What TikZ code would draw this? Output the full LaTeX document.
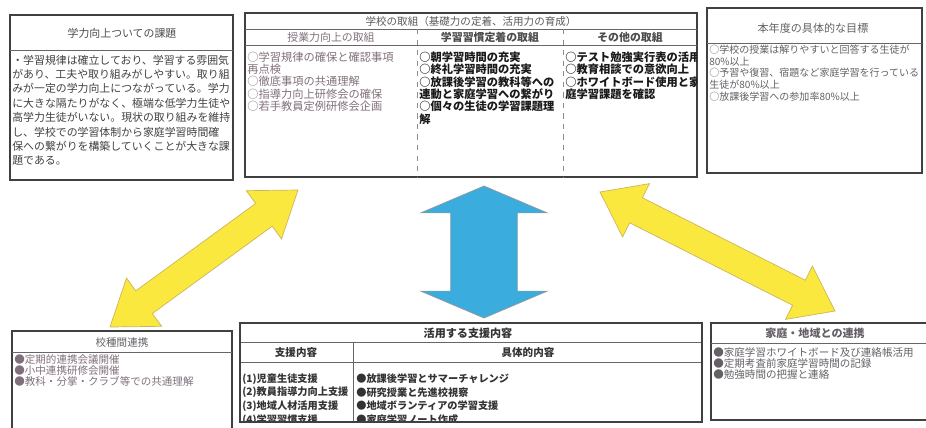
\documentclass[tikz,border=0pt]{standalone}
\usepackage{fontspec}
\setmainfont{Noto Sans CJK JP}
\usepackage{xcolor}
\usepackage{tikz}
\usetikzlibrary{calc}

\definecolor{arrowyellow}{RGB}{250,232,62}
\definecolor{arrowyellowedge}{RGB}{205,180,95}
\definecolor{arrowblue}{RGB}{58,172,222}
\definecolor{fadetext}{RGB}{128,112,124}
\definecolor{greytext}{RGB}{100,96,102}

\newcommand{\jpsize}[2]{\fontsize{#1}{#2}\selectfont}
% block double arrow: from, to, shaft half width, head half width, head length, style
\newcommand{\bigdblarrow}[6]{%
  \coordinate (hA) at ($(#1)!#5!(#2)$);
  \coordinate (hB) at ($(#2)!#5!(#1)$);
  \draw[#6] (#1) -- ($(hA)!#4!90:(#2)$) -- ($(hA)!#3!90:(#2)$)
    -- ($(hB)!#3!-90:(#1)$) -- ($(hB)!#4!-90:(#1)$) -- (#2)
    -- ($(hB)!#4!90:(#1)$) -- ($(hB)!#3!90:(#1)$)
    -- ($(hA)!#3!-90:(#2)$) -- ($(hA)!#4!-90:(#2)$) -- cycle;}

\begin{document}
\begin{tikzpicture}[
  x=0.02cm,y=-0.02cm,
  boxframe/.style={draw=black!75,line width=0.9pt},
  hrule/.style={draw=black!60,line width=0.5pt},
  colrule/.style={draw=black!45,dashed,line width=0.4pt},
  ttl/.style={inner sep=0pt,text=black!70,font=\jpsize{6.2}{7}},
  txt/.style={inner sep=0pt,anchor=north west,align=left},
  yarr/.style={fill=arrowyellow,draw=arrowyellowedge,line width=0.4pt},
  barr/.style={fill=arrowblue,draw=black!40,line width=0.4pt}
]
  \useasboundingbox (0,0) rectangle (926,427);
  \clip (0,0) rectangle (926,427);

  % Issues box (top left)
  \draw[boxframe] (10,15) rectangle (233,180);
  \draw[hrule] (10,50) -- (233,50);
  \node[ttl] (tIssue) at (122,33) {学力向上ついての課題};
  \node[txt,text=black!75,font=\jpsize{6.2}{8.2}] (bIssue) at (12,54.5)
    {・学習規律は確立しており、学習する雰囲気\\があり、工夫や取り組みがしやすい。取り組\\みが一定の学力向上につながっている。学力\\に大きな隔たりがなく、極端な低学力生徒や\\高学力生徒がいない。現状の取り組みを維持\\し、学校での学習体制から家庭学習時間確\\保への繋がりを構築していくことが大きな課\\題である。};

  % School efforts box (top middle)
  \draw[boxframe] (245,13) rectangle (697,177);
  \draw[hrule] (245,29) -- (697,29);
  \draw[hrule] (245,45) -- (697,45);
  \draw[colrule] (417,29) -- (417,177);
  \draw[colrule] (563,29) -- (563,177);
  \node[ttl,font=\jpsize{6.0}{7},text=black!65] (tSchool) at (471,21) {学校の取組（基礎力の定着、活用力の育成）};
  \node[ttl,text=fadetext] (hLesson) at (331,37.5) {授業力向上の取組};
  \node[ttl,font=\jpsize{6.2}{7}\bfseries] (hHabit) at (490,37.5) {学習習慣定着の取組};
  \node[ttl,font=\jpsize{6.2}{7}\bfseries] (hOther) at (630,37.5) {その他の取組};
  \begin{scope}
    \clip (246,46) rectangle (696,176);
    \node[txt,text=fadetext,font=\jpsize{6.4}{7}] (cLesson) at (247,51.5)
      {○学習規律の確保と確認事項\\再点検\\○徹底事項の共通理解\\○指導力向上研修会の確保\\○若手教員定例研修会企画};
    \node[txt,text=black!90,font=\jpsize{6.4}{7}\bfseries] (cHabit) at (419,51.5)
      {○朝学習時間の充実\\○終礼学習時間の充実\\○放課後学習の教科等への\\連動と家庭学習への繋がり\\○個々の生徒の学習課題理\\解};
    \node[txt,text=black!90,font=\jpsize{6.4}{7}\bfseries] (cOther) at (565,51.5)
      {○テスト勉強実行表の活用\\○教育相談での意欲向上\\○ホワイトボード使用と家\\庭学習課題を確認};
  \end{scope}

  % Targets box (top right)
  \draw[boxframe] (707,8) rectangle (922,173);
  \draw[hrule] (707,43) -- (922,43);
  \node[ttl,font=\jpsize{6.3}{7},text=greytext] (tTarget) at (813,28) {本年度の具体的な目標};
  \node[txt,text=greytext,font=\jpsize{5.7}{6.7}] (bTarget) at (709,44.5)
    {○学校の授業は解りやすいと回答する生徒が\\80\%以上\\○予習や復習、宿題など家庭学習を行っている\\生徒が80\%以上\\○放課後学習への参加率80\%以上};

  % Inter-school box (bottom left)
  \draw[boxframe] (12,331) rectangle (232,432);
  \draw[hrule] (12,352) -- (232,352);
  \node[ttl,font=\jpsize{6.0}{7},text=greytext] (tInter) at (122,342) {校種間連携};
  \node[txt,text=fadetext,font=\jpsize{6.0}{6.2}] (bInter) at (14,354.5)
    {●定期的連携会議開催\\●小中連携研修会開催\\●教科・分掌・クラブ等での共通理解};

  % Support box (bottom middle)
  \draw[hrule] (240,342) -- (702,342);
  \draw[hrule] (240,362) -- (702,362);
  \draw[hrule] (353,342) -- (353,422);
  \node[ttl,font=\jpsize{6.3}{7}\bfseries,text=black!80] (tSupport) at (468,333) {活用する支援内容};
  \node[ttl,font=\jpsize{6.0}{7}\bfseries,text=black!80] (hKind) at (296,352.5) {支援内容};
  \node[ttl,font=\jpsize{6.0}{7}\bfseries,text=black!80] (hDetail) at (528,352.5) {具体的内容};
  \begin{scope}
    \clip (241,363) rectangle (701,421);
    \node[txt,text=black!80,font=\jpsize{5.8}{7.9}\bfseries] (cKind) at (242,373)
      {(1)児童生徒支援\\(2)教員指導力向上支援\\(3)地域人材活用支援\\(4)学習習慣支援};
    \node[txt,text=black!80,font=\jpsize{5.8}{7.9}\bfseries] (cDetail) at (356,373)
      {●放課後学習とサマーチャレンジ\\●研究授業と先進校視察\\●地域ボランティアの学習支援\\●家庭学習ノート作成};
  \end{scope}
  \draw[boxframe] (240,323) rectangle (702,422);

  % Home and community box (bottom right)
  \draw[boxframe] (711,323) rectangle (935,420);
  \draw[hrule] (711,343) -- (935,343);
  \node[ttl,font=\jpsize{6.3}{7}\bfseries,text=greytext] (tHome) at (815,333) {家庭・地域との連携};
  \node[txt,text=greytext,font=\jpsize{6.0}{6.2}] (bHome) at (713,347.6)
    {●家庭学習ホワイトボード及び連絡帳活用\\●定期考査前家庭学習時間の記録\\●勉強時間の把握と連絡};

  % Links between the boxes
  \coordinate (lkInterEnd) at (110,327);
  \coordinate (lkInterTop) at (298,190);
  \coordinate (lkSupTop) at (484,186);
  \coordinate (lkSupEnd) at (484,318);
  \coordinate (lkHomeTop) at (600,192);
  \coordinate (lkHomeEnd) at (835,311);
  \bigdblarrow{lkInterEnd}{lkInterTop}{8pt}{17pt}{24pt}{yarr}
  \bigdblarrow{lkSupTop}{lkSupEnd}{19pt}{36pt}{15.3pt}{barr}
  \bigdblarrow{lkHomeTop}{lkHomeEnd}{8pt}{17pt}{23pt}{yarr}
\end{tikzpicture}
\end{document}
